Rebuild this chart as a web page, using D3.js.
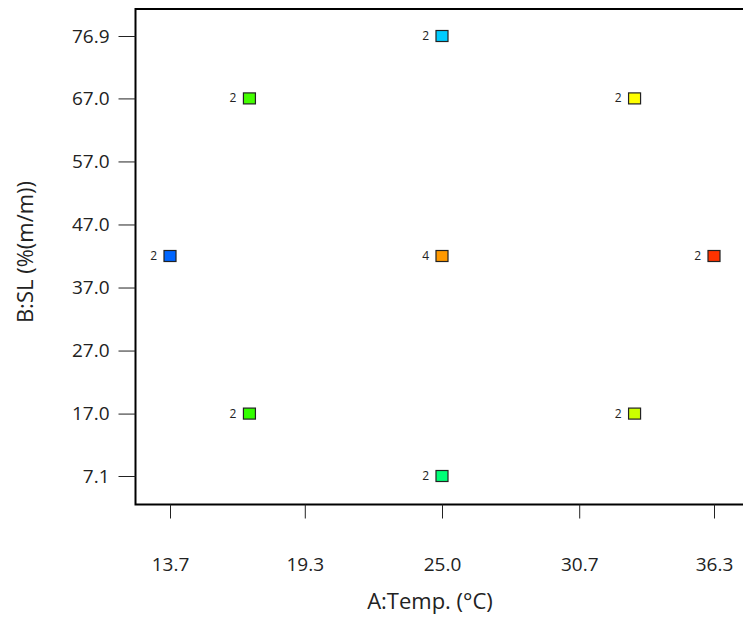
<!DOCTYPE html>
<html>
<head>
<meta charset="utf-8">
<style>
  body { margin: 0; background: #fff; }
  text { font-family: "Open Sans", sans-serif; fill: #222; }
</style>
</head>
<body>
<svg width="743" height="617"></svg>
<script src="https://d3js.org/d3.v7.min.js"></script>
<script>
// design points: temperature, solid loading, replicate count, colour
var temps  = [13.7, 17, 17, 25, 25, 25, 33, 33, 36.3];
var loads  = [42, 67, 17, 76.9, 42, 7.1, 67, 17, 42];
var counts = [2, 2, 2, 2, 4, 2, 2, 2, 2];
var colors = ["#0066ff", "#44ff00", "#33ff00", "#00ccff", "#ff9900", "#00ff77", "#ffff00", "#ccff00", "#ff3300"];

var xTicks = [13.7, 19.3, 25.0, 30.7, 36.3];
var yTicks = [7.1, 17.0, 27.0, 37.0, 47.0, 57.0, 67.0, 76.9];

var svg = d3.select("svg"),
    width = +svg.attr("width"),
    height = +svg.attr("height");

var plotLeft = 135.5, plotTop = 9, plotBottom = 504.5, plotRight = width;

var x = d3.scaleLinear().domain([13.7, 36.3]).range([170, 714]);
var y = d3.scaleLinear().domain([7.1, 76.9]).range([476, 36]);

// frame: top, left and bottom lines (open on the right)
svg.append("path")
    .attr("d", "M" + plotRight + "," + plotTop + "H" + plotLeft + "V" + plotBottom + "H" + plotRight)
    .attr("fill", "none")
    .attr("stroke", "#000")
    .attr("stroke-width", 2);

var xAxis = svg.append("g")
    .attr("transform", "translate(0," + plotBottom + ")")
    .call(d3.axisBottom(x).tickValues(xTicks).tickFormat(d3.format(".1f")).tickSize(14).tickSizeOuter(0));
xAxis.select(".domain").remove();
xAxis.selectAll("line").attr("stroke", "#222");
xAxis.selectAll("text").attr("font-size", 19).attr("dy", 0).attr("y", 66)
    .attr("font-family", "'Open Sans', sans-serif");

var yAxis = svg.append("g")
    .attr("transform", "translate(" + plotLeft + ",0)")
    .call(d3.axisLeft(y).tickValues(yTicks).tickFormat(d3.format(".1f")).tickSize(17).tickSizeOuter(0));
yAxis.select(".domain").remove();
yAxis.selectAll("line").attr("stroke", "#222");
yAxis.selectAll("text").attr("font-size", 19).attr("x", -26)
    .attr("font-family", "'Open Sans', sans-serif");

var pts = svg.append("g").selectAll("g")
    .data(temps.map(function(t, i) { return {t: t, s: loads[i], n: counts[i], c: colors[i]}; }))
  .enter().append("g")
    .attr("transform", function(d) { return "translate(" + x(d.t) + "," + y(d.s) + ")"; });

pts.append("rect")
    .attr("x", -6).attr("y", -5.5)
    .attr("width", 12).attr("height", 11)
    .attr("fill", function(d) { return d.c; })
    .attr("stroke", "#222")
    .attr("stroke-width", 1.2);

pts.append("text")
    .attr("x", -13).attr("y", 4)
    .attr("text-anchor", "end")
    .attr("font-size", 12)
    .text(function(d) { return d.n; });

svg.append("text")
    .attr("x", 430).attr("y", 609)
    .attr("text-anchor", "middle")
    .attr("font-size", 22)
    .text("A:Temp. (°C)");

svg.append("text")
    .attr("transform", "translate(33,252) rotate(-90)")
    .attr("text-anchor", "middle")
    .attr("font-size", 22)
    .text("B:SL (%(m/m))");
</script>
</body>
</html>
